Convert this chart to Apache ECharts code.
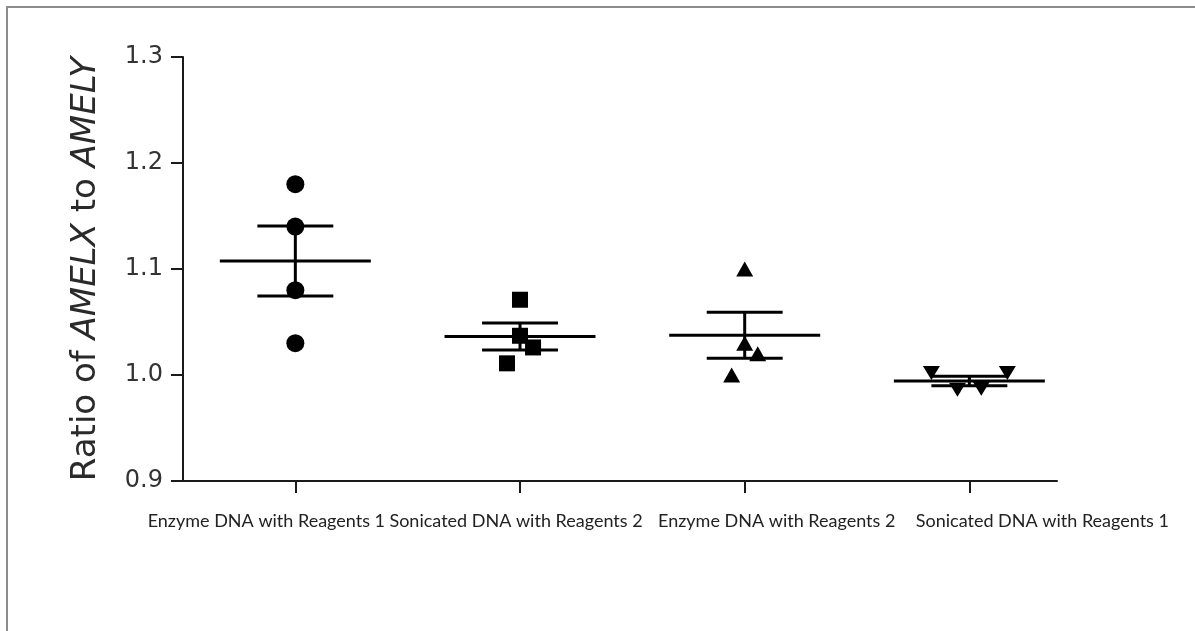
<!DOCTYPE html>
<html>
<head>
<meta charset="utf-8">
<script src="https://cdn.jsdelivr.net/npm/echarts@6/dist/echarts.min.js"></script>
<style>
  html, body { margin: 0; padding: 0; background: #fff; }
  #chart { width: 1195px; height: 631px; }
</style>
</head>
<body>
<div id="chart"></div>
<script>
// Group names along the x axis
const categories = [
  'Enzyme DNA with Reagents 1',
  'Sonicated DNA with Reagents 2',
  'Enzyme DNA with Reagents 2',
  'Sonicated DNA with Reagents 1'
];

// Individual AMELX/AMELY ratios per group
const enzymeReagents1 = [1.18, 1.14, 1.08, 1.03];
const sonicatedReagents2 = [1.071, 1.037, 1.026, 1.011];
const enzymeReagents2 = [1.10, 1.03, 1.02, 1.00];
const sonicatedReagents1 = [1.002, 0.986, 0.987, 1.002];

// Horizontal scatter offsets (in category units) so overlapping points stay visible
const jitter = [
  [0, 0, 0, 0],
  [0, 0, 0.058, -0.058],
  [0, 0, 0.058, -0.058],
  [-0.169, -0.053, 0.053, 0.169]
];

// Y axis ticks
const yTicks = [0.9, 1.0, 1.1, 1.2, 1.3];

const groups = [enzymeReagents1, sonicatedReagents2, enzymeReagents2, sonicatedReagents1];
const symbols = ['circle', 'rect', 'triangle', 'triangle'];
const symbolRotations = [0, 0, 0, 180];
const symbolSizes = [18, 16, [17, 15], [17, 14]];

function mean(a) { return a.reduce((s, v) => s + v, 0) / a.length; }
function sem(a) {
  const m = mean(a);
  const v = a.reduce((s, x) => s + (x - m) * (x - m), 0) / (a.length - 1);
  return Math.sqrt(v / a.length);
}

// Mean ± SEM per group
const summary = groups.map((g, i) => [i + 1, mean(g), sem(g)]);

const scatterSeries = groups.map((g, i) => ({
  type: 'scatter',
  name: categories[i],
  symbol: symbols[i],
  symbolRotate: symbolRotations[i],
  symbolSize: symbolSizes[i],
  itemStyle: { color: '#000', opacity: 1 },
  z: 3,
  data: g.map((v, k) => [i + 1 + jitter[i][k], v])
}));

const MEAN_HALF = 0.336;   // half-length of the mean line (category units)
const CAP_HALF = 0.169;    // half-length of the SEM caps

const errorSeries = {
  type: 'custom',
  z: 4,
  data: summary,
  renderItem: function (params, api) {
    const x = api.value(0), m = api.value(1), e = api.value(2);
    const style = { stroke: '#000', lineWidth: 3 };
    const line = (x1, y1, x2, y2) => {
      const p1 = api.coord([x1, y1]), p2 = api.coord([x2, y2]);
      return { type: 'line', shape: { x1: p1[0], y1: p1[1], x2: p2[0], y2: p2[1] }, style: style };
    };
    return {
      type: 'group',
      children: [
        line(x - MEAN_HALF, m, x + MEAN_HALF, m),
        line(x, m - e, x, m + e),
        line(x - CAP_HALF, m + e, x + CAP_HALF, m + e),
        line(x - CAP_HALF, m - e, x + CAP_HALF, m - e)
      ]
    };
  }
};

// Per-label horizontal padding so each caption sits where it is printed
const labelRich = {
  c0: { padding: [0, 58, 0, 0] },
  c1: { padding: [0, 8, 0, 0] },
  c2: { padding: [0, 0, 0, 64] },
  c3: { padding: [0, 0, 0, 146] }
};

const chart = echarts.init(document.getElementById('chart'), null, { renderer: 'canvas' });
chart.setOption({
  animation: false,
  backgroundColor: '#fff',
  grid: { left: 183, right: 138, top: 57, bottom: 150, containLabel: false },
  xAxis: {
    type: 'value',
    min: 0.5,
    max: 4.39,
    splitLine: { show: false },
    axisLine: { show: true, lineStyle: { color: '#1a1a1a', width: 2 } },
    axisTick: { show: true, customValues: [1, 2, 3, 4], length: 12, lineStyle: { color: '#1a1a1a', width: 2 } },
    axisLabel: {
      customValues: [1, 2, 3, 4],
      margin: 31,
      fontFamily: 'Lato',
      fontSize: 18,
      color: '#222',
      rich: labelRich,
      formatter: function (v) {
        const i = Math.round(v) - 1;
        return '{c' + i + '|' + categories[i] + '}';
      }
    }
  },
  yAxis: {
    type: 'value',
    min: yTicks[0],
    max: yTicks[yTicks.length - 1],
    interval: 0.1,
    splitLine: { show: false },
    axisLine: { show: true, lineStyle: { color: '#1a1a1a', width: 2 } },
    axisTick: { show: true, length: 12, lineStyle: { color: '#1a1a1a', width: 2 } },
    axisLabel: {
      margin: 20,
      fontFamily: 'DejaVu Sans',
      fontSize: 24,
      color: '#333',
      formatter: function (v) { return v.toFixed(1); }
    },
    name: '{n|Ratio of }{i|AMELX}{n| to }{i|AMELY}',
    nameLocation: 'middle',
    nameGap: 80,
    nameTextStyle: {
      fontFamily: 'DejaVu Sans',
      fontSize: 34,
      color: '#2a2a2a',
      rich: {
        n: { fontFamily: 'DejaVu Sans', fontSize: 34, color: '#2a2a2a' },
        i: { fontFamily: 'DejaVu Sans', fontSize: 34, fontStyle: 'italic', color: '#2a2a2a' }
      }
    }
  },
  graphic: [{
    type: 'polyline',
    silent: true,
    shape: { points: [[7, 631], [7, 7], [1195, 7]] },
    style: { stroke: '#8c8c8c', lineWidth: 2, fill: null }
  }],
  series: scatterSeries.concat([errorSeries])
});
</script>
</body>
</html>
